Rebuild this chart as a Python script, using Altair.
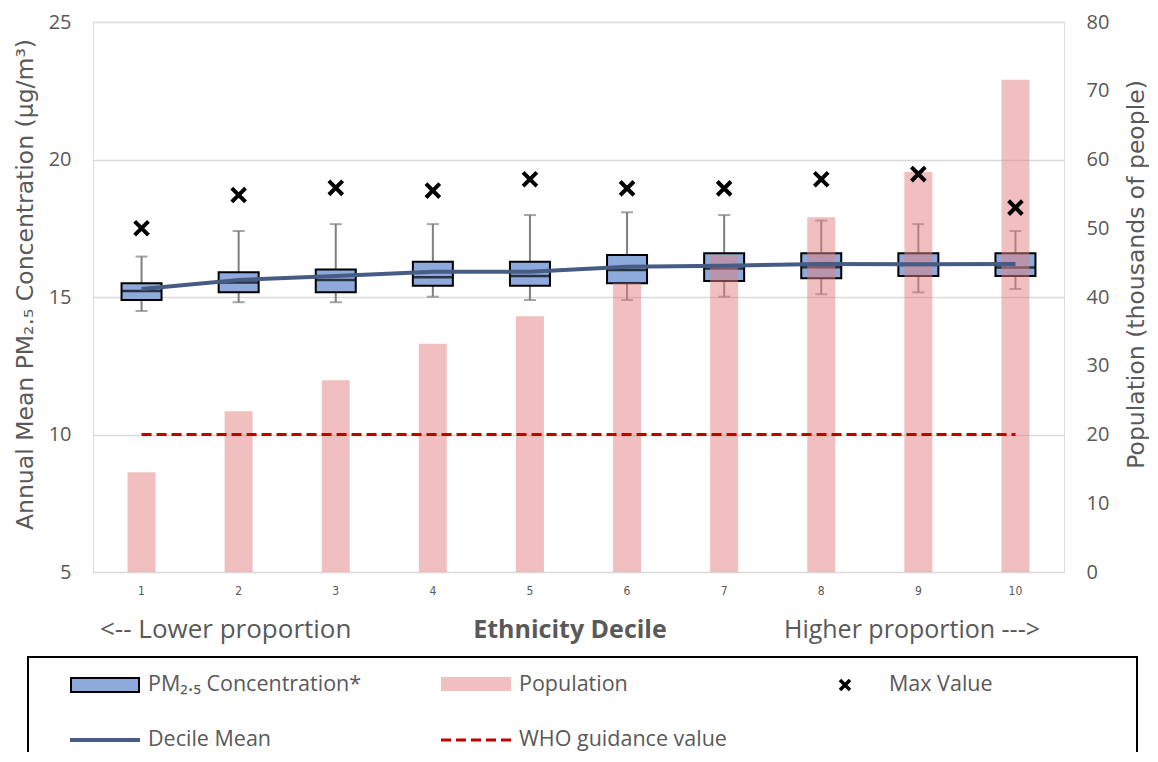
import altair as alt
import pandas as pd

# ---- data ----
deciles = [1, 2, 3, 4, 5, 6, 7, 8, 9, 10]
whisker_low = [14.49, 14.81, 14.81, 15.01, 14.89, 14.89, 15.01, 15.10, 15.17, 15.29]
q1 = [14.89, 15.17, 15.17, 15.41, 15.41, 15.50, 15.58, 15.68, 15.76, 15.76]
median = [15.22, 15.53, 15.62, 15.72, 15.76, 15.98, 16.04, 16.08, 16.16, 16.07]
q3 = [15.50, 15.90, 16.00, 16.28, 16.28, 16.53, 16.59, 16.59, 16.59, 16.59]
whisker_high = [16.47, 17.40, 17.65, 17.65, 17.98, 18.08, 17.98, 17.78, 17.65, 17.40]
max_value = [17.50, 18.71, 18.97, 18.87, 19.28, 18.95, 18.95, 19.28, 19.47, 18.25]
decile_mean = [15.29, 15.62, 15.76, 15.92, 15.92, 16.10, 16.14, 16.20, 16.19, 16.20]
population = [14.5, 23.4, 27.9, 33.2, 37.2, 42.0, 46.1, 51.6, 58.2, 71.6]
who_value = 10

pm_ticks = [5, 10, 15, 20, 25]
pop_ticks = [0, 10, 20, 30, 40, 50, 60, 70, 80]

df = pd.DataFrame({
    "decile": deciles, "lo": whisker_low, "q1": q1, "med": median, "q3": q3,
    "hi": whisker_high, "mx": max_value, "mean": decile_mean, "pop": population,
    "who": [who_value] * len(deciles),
})
one = pd.DataFrame({"k": [0]})

GREY = "#595959"
FONT = "Open Sans"
TFONT = "DejaVu Sans"
BOX_FILL = "#8EA9DB"
MEAN_COL = "#475C85"
PINK = "#E37F7F"
RED = "#C00000"
XPATH = "M-1,-1L1,1M-1,1L1,-1"

W, H = 971, 550

xenc = alt.X("decile:O", scale=alt.Scale(paddingInner=0, paddingOuter=0),
             axis=alt.Axis(title=None, labelAngle=0, labelFontSize=12, labelColor=GREY,
                           labelFont="DejaVu Sans Condensed", labelPadding=13,
                           ticks=False, domain=False, grid=False))

pm_scale = alt.Scale(domain=[5, 25], nice=False, zero=False)
pm_axis = alt.Axis(values=pm_ticks, orient="left", grid=True, gridColor="#D9D9D9", gridWidth=1.5,
                   domain=False, ticks=False, labelFontSize=20, labelColor=GREY, labelFont=FONT,
                   labelPadding=22, title="Annual Mean PM₂.₅ Concentration (µg/m³)",
                   titleFontSize=23.5, titleFont=TFONT, titleColor=GREY, titleFontWeight="normal",
                   titlePadding=11, titleY=262)

def ypm(field):
    return alt.Y(f"{field}:Q", scale=pm_scale, axis=pm_axis)

base = alt.Chart(df)

whisk_lo = base.mark_rule(color="#7F7F7F", strokeWidth=2).encode(x=xenc, y=ypm("lo"), y2="q1:Q")
whisk_hi = base.mark_rule(color="#7F7F7F", strokeWidth=2).encode(x=xenc, y=ypm("q3"), y2="hi:Q")
cap_lo = base.mark_tick(color="#7F7F7F", size=12, thickness=2).encode(x=xenc, y=ypm("lo"))
cap_hi = base.mark_tick(color="#7F7F7F", size=12, thickness=2).encode(x=xenc, y=ypm("hi"))
box = base.mark_bar(size=40, fill=BOX_FILL, stroke="black", strokeWidth=2).encode(
    x=xenc, y=ypm("q1"), y2="q3:Q")
med = base.mark_tick(color="black", size=40, thickness=2.5).encode(x=xenc, y=ypm("med"))
lower = alt.layer(whisk_lo, whisk_hi, cap_lo, cap_hi, box, med)

bars = base.mark_bar(size=28, color=PINK, opacity=0.5).encode(
    x=xenc,
    y=alt.Y("pop:Q", scale=alt.Scale(domain=[0, 80], nice=False),
            axis=alt.Axis(values=pop_ticks, orient="right", grid=False, domain=False, ticks=False,
                          labelFontSize=20, labelColor=GREY, labelFont=FONT, labelPadding=22,
                          title="Population (thousands of people)", titleFontSize=23.5,
                          titleFont=TFONT, titleColor=GREY, titleFontWeight="normal",
                          titleAngle=270, titleBaseline="top", titlePadding=16, titleY=252)))

up_y = lambda f: alt.Y(f"{f}:Q", scale=pm_scale, axis=None)
who = base.mark_line(color=RED, strokeWidth=3, strokeDash=[10, 5]).encode(x=xenc, y=up_y("who"))
mean = base.mark_line(color=MEAN_COL, strokeWidth=4).encode(x=xenc, y=up_y("mean"))
mx = base.mark_point(shape=XPATH, size=190, stroke="black", strokeWidth=4, filled=False,
                     opacity=1).encode(x=xenc, y=up_y("mx"))
upper = alt.layer(who, mean, mx)

# ---- x-axis annotation texts ----
c1 = alt.Chart(one)
t_left = c1.mark_text(text="<-- Lower proportion", align="left", baseline="middle", fontSize=26,
                      font=FONT, color=GREY).encode(x=alt.value(7), y=alt.value(608))
t_mid = c1.mark_text(text="Ethnicity Decile", align="center", baseline="middle", fontSize=25,
                     font=FONT, fontWeight="bold", color=GREY).encode(x=alt.value(477), y=alt.value(608))
t_right = c1.mark_text(text="Higher proportion --->", align="right", baseline="middle", fontSize=25,
                       font=FONT, color=GREY).encode(x=alt.value(947), y=alt.value(608))

# ---- legend (drawn by hand) ----
frame = c1.mark_rect(fill="white", fillOpacity=0, stroke="black", strokeWidth=2).encode(
    x=alt.value(-65), x2=alt.value(1044), y=alt.value(635), y2=alt.value(820))
lg_box = c1.mark_rect(fill=BOX_FILL, stroke="black", strokeWidth=2).encode(
    x=alt.value(-22), x2=alt.value(46), y=alt.value(656), y2=alt.value(670))
lg_pop = c1.mark_rect(fill=PINK, opacity=0.5).encode(
    x=alt.value(348), x2=alt.value(418), y=alt.value(655), y2=alt.value(669))
lg_x = c1.mark_point(shape=XPATH, size=100, stroke="black", strokeWidth=3.5, filled=False,
                     opacity=1).encode(x=alt.value(752), y=alt.value(663))
lg_mean = c1.mark_rule(color=MEAN_COL, strokeWidth=4).encode(
    x=alt.value(-23), x2=alt.value(47), y=alt.value(718))
lg_who = c1.mark_rule(color=RED, strokeWidth=3, strokeDash=[10, 5]).encode(
    x=alt.value(348), x2=alt.value(418), y=alt.value(718))

def lg_text(txt, x, y):
    return c1.mark_text(text=txt, align="left", baseline="middle", fontSize=21.5, font=FONT,
                        color=GREY).encode(x=alt.value(x), y=alt.value(y))

legend = alt.layer(
    frame, lg_box, lg_pop, lg_x, lg_mean, lg_who,
    lg_text("PM₂.₅ Concentration*", 55, 663),
    lg_text("Population", 426, 663),
    lg_text("Max Value", 796, 663),
    lg_text("Decile Mean", 55, 718),
    lg_text("WHO guidance value", 426, 718),
)

deco = alt.layer(t_left, t_mid, t_right, legend)

chart = alt.layer(lower, bars, upper, deco).resolve_scale(y="independent").properties(
    width=W, height=H,
    padding={"left": 85, "top": 14, "right": 85, "bottom": 180},
    autosize=alt.AutoSizeParams(type="none"),
).configure_view(stroke=None).configure(background="white")

chart.save("out.html", embed_options={"renderer": "svg", "actions": False})
